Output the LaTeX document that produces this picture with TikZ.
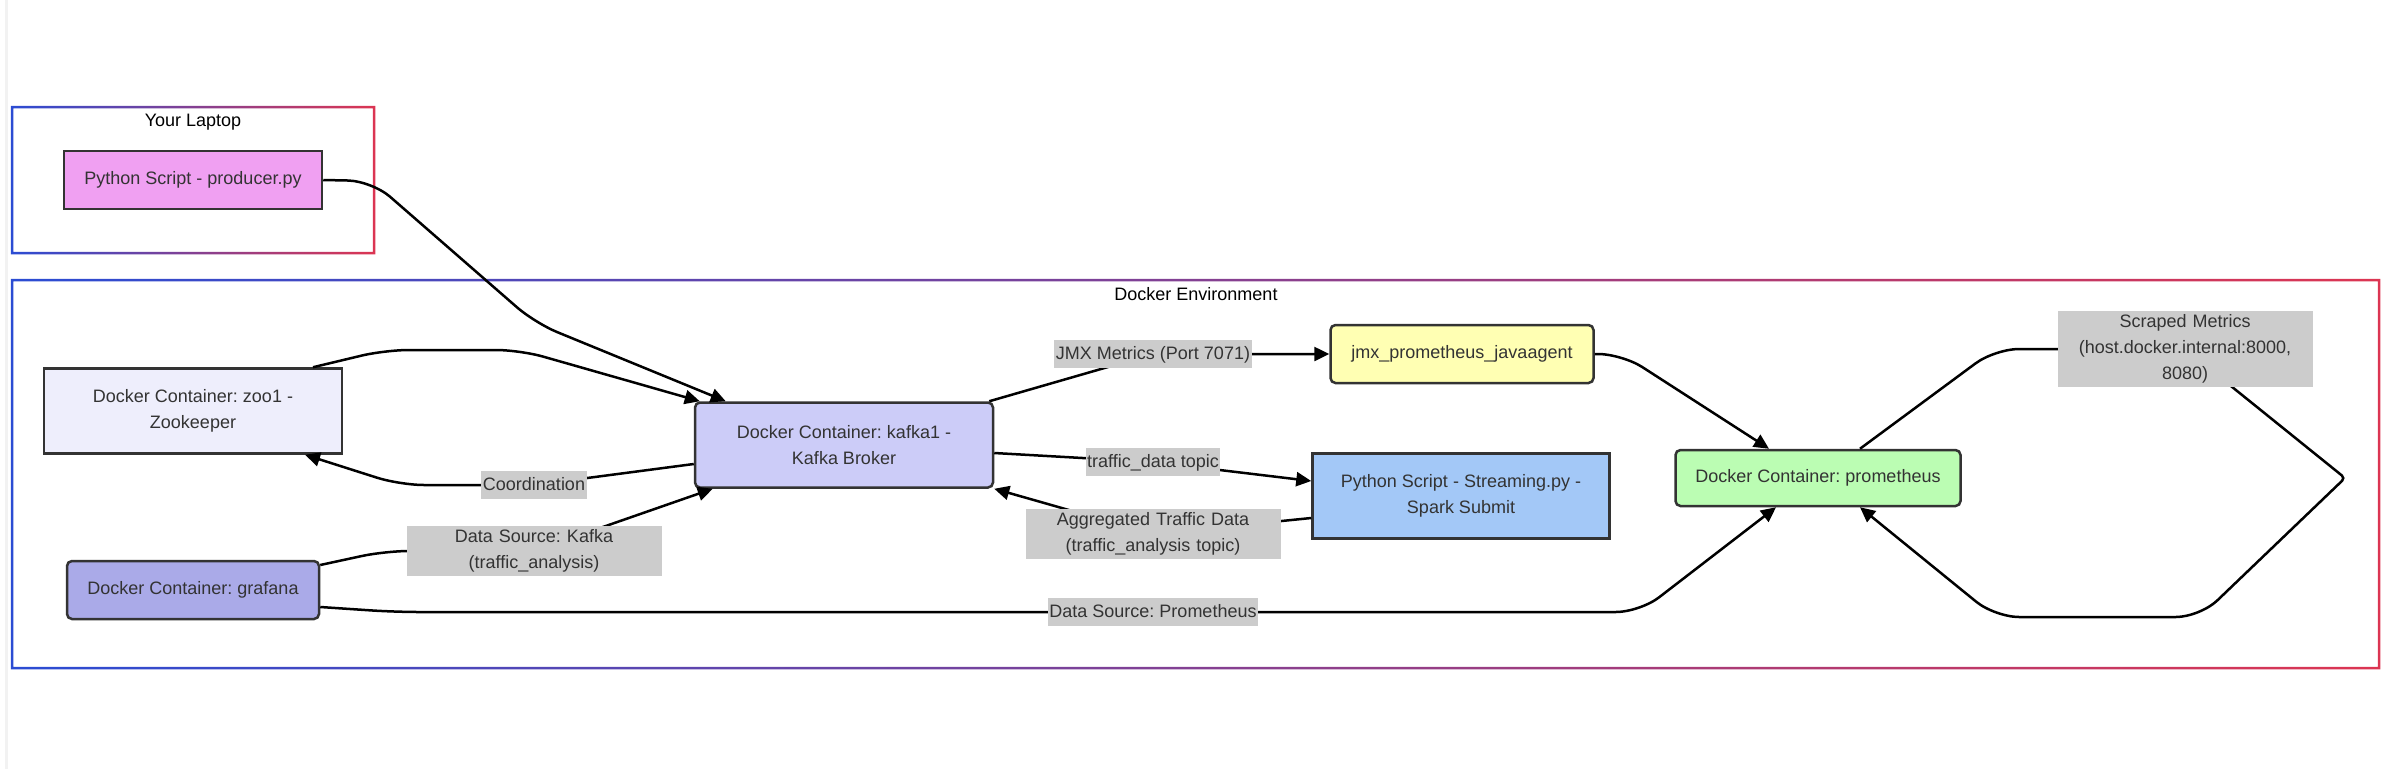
\documentclass[tikz,border=0pt]{standalone}
\usepackage{fontspec}
\setmainfont{Liberation Sans}
\usepackage{tikz}
\usetikzlibrary{arrows.meta}
\usetikzlibrary{positioning}

\definecolor{boxline}{HTML}{333333}
\definecolor{lblgray}{HTML}{CCCCCC}
\definecolor{clblue}{HTML}{2B4CD3}
\definecolor{clred}{HTML}{DC3552}
\definecolor{producerfill}{HTML}{F0A0F2}
\definecolor{zoofill}{HTML}{EEEEFC}
\definecolor{grafanafill}{HTML}{AAAAE8}
\definecolor{kafkafill}{HTML}{CCCCF8}
\definecolor{jmxfill}{HTML}{FFFFB3}
\definecolor{sparkfill}{HTML}{A3C8F7}
\definecolor{promfill}{HTML}{BBFDB3}

\tikzset{
    txt/.style={font=\fontsize{18}{26}\selectfont\frenchspacing, text=boxline},
    box/.style={txt, draw=boxline, line width=2.5pt, minimum height=58pt, inner sep=0pt, align=center},
    roundbox/.style={box, rounded corners=5pt},
    lbl/.style={txt, sharp corners, fill=lblgray, inner xsep=1.5pt, inner ysep=3.5pt, text height=16pt, text depth=5pt},
    wraplbl/.style={txt, sharp corners, fill=lblgray, inner xsep=2pt, inner ysep=3.5pt, text width=251pt, align=center},
    edge/.style={line width=2.5pt, rounded corners=24pt, -{Triangle[length=15pt,width=14pt]}},
}

\begin{document}
\begin{tikzpicture}[x=1pt, y=-1pt]
    \useasboundingbox (0,0) rectangle (2391,769);
    \fill[gray!10] (5,0) rectangle (8,769);

    % clusters
    \shade[left color=clblue, right color=clred, even odd rule]
        (10.75,105.75) rectangle (375.25,254.25) (13.25,108.25) rectangle (372.75,251.75);
    \shade[left color=clblue, right color=clred, even odd rule]
        (10.75,278.75) rectangle (2380.25,669.25) (13.25,281.25) rectangle (2377.75,666.75);
    \node[txt, text=black] (laptop) at (193,122) {Your Laptop};
    \node[txt, text=black] (docker) at (1196,294) {Docker Environment};

    % nodes
    \node[box, fill=producerfill, minimum width=258pt] (producer) at (193,180) {Python Script - producer.py};
    \node[box, fill=zoofill, minimum width=298pt, minimum height=85pt] (zoo) at (193,411) {Docker Container: zoo1 -\\Zookeeper};
    \node[roundbox, fill=grafanafill, minimum width=252pt] (grafana) at (193,590) {Docker Container: grafana};
    \node[roundbox, fill=kafkafill, minimum width=298pt, minimum height=85pt] (kafka) at (844,445) {Docker Container: kafka1 -\\Kafka Broker};
    \node[roundbox, fill=jmxfill, minimum width=263pt] (jmx) at (1462,354) {jmx\_prometheus\_javaagent};
    \node[box, fill=sparkfill, minimum width=297pt, minimum height=85pt] (spark) at (1461,496) {Python Script - Streaming.py -\\Spark Submit};
    \node[roundbox, fill=promfill, minimum width=285pt, minimum height=56pt] (prom) at (1818,478) {Docker Container: prometheus};

    % connectors
    \draw[edge] (producer.east) -- (372,181) -- (535,323) -- ([xshift=32pt]kafka.north west);
    \draw[edge] ([xshift=120pt]zoo.north) -- (385,350) -- (520,350) -- ([xshift=6pt]kafka.north west);
    \draw[edge] ([yshift=-19pt]kafka.west) -- (534,485) node[lbl] {Coordination} -- (400,485) -- ([xshift=112pt]zoo.south);
    \draw[edge] ([yshift=25pt]grafana.east) -- (385,551) -- (534,551) node[wraplbl] {Data Source: Kafka\\(traffic\_analysis)} -- ([xshift=19pt]kafka.south west);
    \draw[edge] ([yshift=-17pt]grafana.east) -- (395,612) -- (1153,612) node[lbl] {Data Source: Prometheus} -- (1640,612) -- ([xshift=-42pt]prom.south);
    \draw[edge] ([xshift=-5pt]kafka.north east) -- (1153,354) node[lbl] {JMX Metrics (Port 7071)} -- (jmx.west);
    \draw[edge] ([yshift=-8pt]kafka.east) -- (1153,462) node[lbl] {traffic\_data topic} -- ([yshift=15pt]spark.west);
    \draw[edge] ([yshift=-22pt]spark.west) -- (1153,534) node[wraplbl] {Aggregated Traffic Data\\(traffic\_analysis topic)} -- (kafka.south east);
    \draw[edge] (jmx.east) -- (1622,354) -- ([xshift=-49pt]prom.north);
    \draw[edge] ([xshift=42pt]prom.north) -- (1995,349) -- (2185,349) node[wraplbl] {Scraped Metrics\\(host.docker.internal:8000,\\8080)}
        [rounded corners=4pt] -- (2345,478) [rounded corners=24pt] -- (2200,617) -- (1995,617) -- ([xshift=42pt]prom.south);
\end{tikzpicture}
\end{document}
